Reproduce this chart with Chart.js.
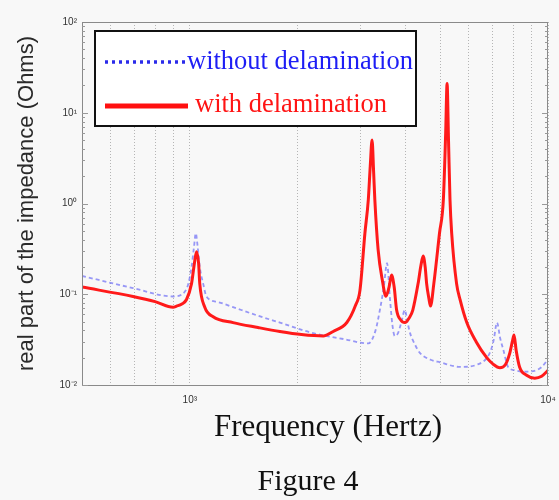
<!DOCTYPE html>
<html>
<head>
<meta charset="utf-8">
<script src="https://cdn.jsdelivr.net/npm/chart.js@4"></script>
<style>
  body { margin: 0; background: #f8f8f8; }
  #wrap { width: 559px; height: 500px; }
</style>
</head>
<body>
<div id="wrap"><canvas id="chartImpedance" width="559" height="500"></canvas></div>
<script>
/* ── Data ─────────────────────────────────────────────────── */
const freqWith = [500, 694, 800, 898, 918, 950, 979, 1011, 1030, 1044, 1058, 1066, 1101, 1162, 1321, 1550, 1784, 2050, 2357, 2514,
  2744, 2900, 2986, 3082, 3150, 3190, 3227, 3260, 3285, 3355, 3450, 3527, 3600, 3658, 3720, 3779, 3880, 3985, 4100, 4193,
  4338, 4420, 4482, 4540, 4583, 4650, 4697, 4800, 4978, 5103, 5180, 5227, 5275, 5326, 5384, 5556, 5685, 5933, 6300, 6744,
  7025, 7338, 7600, 7825, 7950, 8039, 8150, 8330, 8714, 9184, 9600, 10000];
const zWith = [0.12, 0.0945, 0.083, 0.072, 0.074, 0.078, 0.0875, 0.131, 0.22, 0.294, 0.22, 0.131, 0.072, 0.0566, 0.0487, 0.043, 0.0389, 0.036, 0.0347, 0.0389,
  0.0488, 0.075, 0.111, 0.47, 1.1, 2.6, 5.0, 2.2, 1.1, 0.31, 0.14, 0.095, 0.12, 0.163, 0.12, 0.067, 0.052, 0.0487, 0.055, 0.067,
  0.131, 0.21, 0.264, 0.2, 0.131, 0.09, 0.074, 0.131, 0.47, 1.1, 6, 21, 5, 1.1, 0.47, 0.131, 0.0865, 0.0487, 0.03, 0.02,
  0.017, 0.0155, 0.0167, 0.0226, 0.03, 0.0355, 0.024, 0.0158, 0.0128, 0.0119, 0.0125, 0.0145];

const freqWithout = [500, 694, 898, 958, 990, 1011, 1027, 1039, 1052, 1066, 1090, 1113, 1200, 1321, 1550, 1784, 2210, 2700, 3150, 3300,
  3393, 3480, 3553, 3620, 3680, 3734, 3813, 3900, 3985, 4050, 4120, 4250, 4387, 4700, 4993, 5685, 6322, 6880, 7050, 7206,
  7350, 7502, 7739, 8100, 8506, 9298, 9853, 10000];
const zWithout = [0.159, 0.117, 0.0945, 0.102, 0.13, 0.2, 0.33, 0.47, 0.33, 0.2, 0.13, 0.0945, 0.082, 0.072, 0.058, 0.0487, 0.0373, 0.032, 0.0287, 0.04,
  0.067, 0.12, 0.22, 0.09, 0.045, 0.0347, 0.0373, 0.05, 0.067, 0.05, 0.0373, 0.028, 0.0226, 0.019, 0.0178, 0.0158, 0.0167, 0.0226, 0.031, 0.0487,
  0.033, 0.0245, 0.0158, 0.0145, 0.014, 0.0146, 0.0178, 0.02];

const xGridTicks  = [600, 700, 800, 900, 1000, 2000, 3000, 4000, 5000, 6000, 7000, 8000, 9000, 10000];
const xTickLabels = { 1000: '10³', 10000: '10⁴' };
const yTicks      = [0.01, 0.1, 1, 10, 100];
const yTickLabels = ['10⁻²', '10⁻¹', '10⁰', '10¹', '10²'];

const seriesLabels = ['with delamination', 'without delamination'];
const xTitle  = 'Frequency (Hertz)';
const yTitle  = 'real part of the impedance (Ohms)';
const caption = 'Figure 4';

const toPoints = (xs, ys) => xs.map((x, i) => ({ x, y: ys[i] }));

/* ── Extra drawing: background, frame, minor ticks, legend, texts ── */
const figurePlugin = {
  id: 'figure',
  beforeDraw(chart) {
    const ctx = chart.ctx;
    ctx.save();
    ctx.fillStyle = '#f8f8f8';
    ctx.fillRect(0, 0, chart.width, chart.height);
    ctx.restore();
  },
  afterDraw(chart) {
    const { ctx, chartArea: a } = chart;
    const ys = chart.scales.y;
    ctx.save();

    // frame
    ctx.strokeStyle = '#8a8a8a';
    ctx.lineWidth = 1;
    ctx.strokeRect(a.left + 0.5, a.top + 0.5, a.right - a.left - 1, a.bottom - a.top);

    // inward y ticks, left and right
    ctx.strokeStyle = '#999';
    for (let e = -2; e < 2; e++) {
      for (let m = 1; m <= 9; m++) {
        const py = Math.round(ys.getPixelForValue(m * Math.pow(10, e))) + 0.5;
        const len = m === 1 ? 6 : 3;
        ctx.beginPath();
        ctx.moveTo(a.left, py); ctx.lineTo(a.left + len, py);
        ctx.moveTo(a.right, py); ctx.lineTo(a.right - len, py);
        ctx.stroke();
      }
    }

    // legend box
    ctx.fillStyle = '#ffffff';
    ctx.fillRect(94, 30, 323, 97);
    ctx.strokeStyle = '#111';
    ctx.lineWidth = 2;
    ctx.strokeRect(95, 31, 321, 95);

    const dsWith = chart.data.datasets[0];
    const dsWithout = chart.data.datasets[1];

    ctx.setLineDash([3, 4]);
    ctx.lineWidth = 3.5;
    ctx.strokeStyle = '#2b2bea';
    ctx.beginPath(); ctx.moveTo(105, 62); ctx.lineTo(186, 62); ctx.stroke();
    ctx.setLineDash([]);
    ctx.lineWidth = 5;
    ctx.strokeStyle = '#ff1010';
    ctx.beginPath(); ctx.moveTo(105, 106); ctx.lineTo(188, 106); ctx.stroke();

    ctx.font = '26.5px "Liberation Serif", "Times New Roman", serif';
    ctx.textBaseline = 'alphabetic';
    ctx.textAlign = 'left';
    ctx.fillStyle = '#1e1ef5';
    ctx.fillText(dsWithout.label, 187, 69);
    ctx.fillStyle = '#ff1414';
    ctx.fillText(dsWith.label, 195, 112);

    // axis title and caption
    ctx.fillStyle = '#111';
    ctx.textAlign = 'center';
    ctx.textBaseline = 'middle';
    ctx.font = '31px "Liberation Serif", "Times New Roman", serif';
    ctx.fillText(xTitle, 328, 428);
    ctx.font = '30px "Liberation Serif", "Times New Roman", serif';
    ctx.fillText(caption, 308, 482);

    ctx.restore();
  }
};

/* ── Chart ────────────────────────────────────────────────── */
new Chart(document.getElementById('chartImpedance'), {
  type: 'line',
  data: {
    datasets: [
      {
        label: seriesLabels[0],
        data: toPoints(freqWith, zWith),
        borderColor: '#ff1a1a',
        borderWidth: 3,
        pointRadius: 0,
        cubicInterpolationMode: 'monotone',
        fill: false
      },
      {
        label: seriesLabels[1],
        data: toPoints(freqWithout, zWithout),
        borderColor: 'rgba(110,110,245,0.7)',
        borderWidth: 1.8,
        borderDash: [4, 3],
        pointRadius: 0,
        cubicInterpolationMode: 'monotone',
        fill: false
      }
    ]
  },
  options: {
    responsive: false,
    animation: false,
    layout: { padding: { left: 0, right: 11, top: 22, bottom: 0 } },
    plugins: {
      legend: { display: false },
      tooltip: { enabled: false }
    },
    scales: {
      x: {
        type: 'logarithmic',
        min: 500,
        max: 10000,
        // fixed box; the 10^4 label may hang over the right edge
        afterFit: s => { s.height = 115; s.paddingLeft = 0; s.paddingRight = 0; },
        afterBuildTicks: s => { s.ticks = xGridTicks.map(v => ({ value: v })); },
        grid: { color: '#b5b5b5', lineWidth: 1, drawTicks: false },
        border: { display: true, color: '#8a8a8a', dash: [1, 2] },
        ticks: {
          autoSkip: false,
          maxRotation: 0,
          padding: 9,
          color: '#333',
          font: { family: '"Liberation Sans", Arial, sans-serif', size: 10 },
          callback: v => xTickLabels[v] || ''
        }
      },
      y: {
        type: 'logarithmic',
        min: 0.01,
        max: 100,
        afterFit: s => { s.width = 82; },
        afterBuildTicks: s => { s.ticks = yTicks.map(v => ({ value: v })); },
        grid: { display: false, drawTicks: false },
        border: { display: true, color: '#8a8a8a' },
        ticks: {
          padding: 5,
          color: '#333',
          font: { family: '"Liberation Sans", Arial, sans-serif', size: 10 },
          callback: v => yTickLabels[yTicks.indexOf(v)] || ''
        },
        title: {
          display: true,
          text: yTitle,
          color: '#2a2a2a',
          padding: { top: 14, bottom: 0 },
          font: { family: '"Liberation Sans", Arial, sans-serif', size: 22 }
        }
      }
    }
  },
  plugins: [figurePlugin]
});
</script>
</body>
</html>
